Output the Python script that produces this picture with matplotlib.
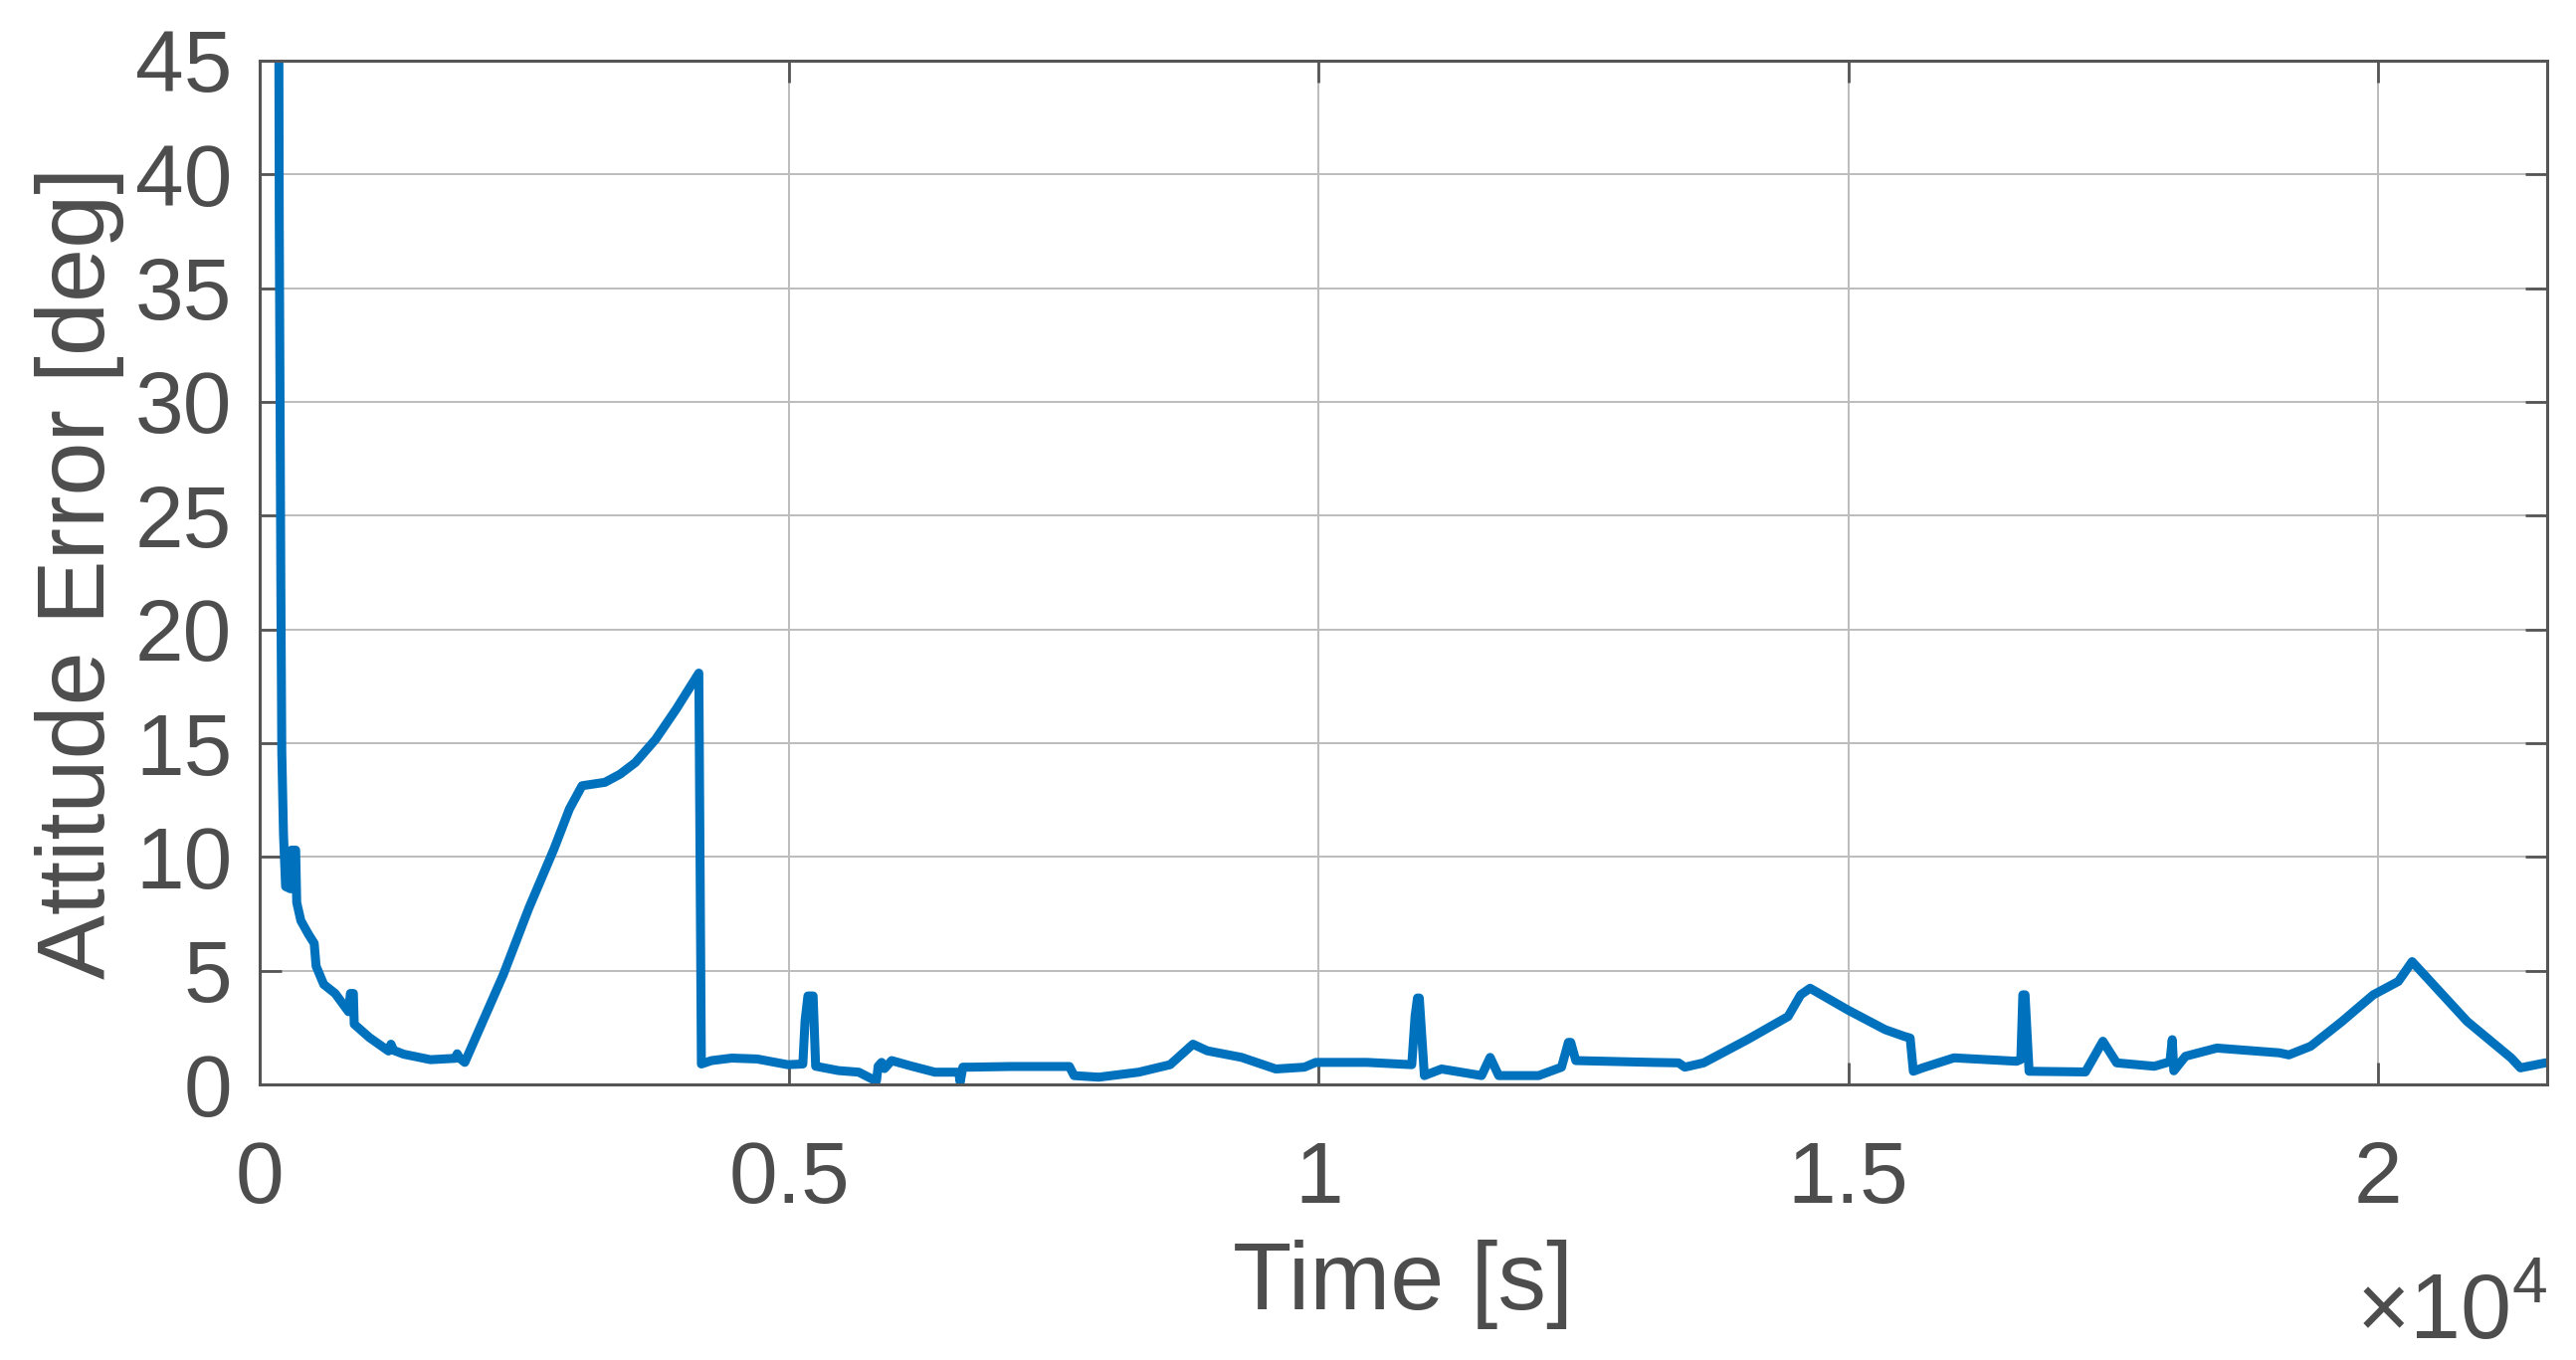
import matplotlib.pyplot as plt
from matplotlib.ticker import FixedLocator, FuncFormatter

plt.rcParams['font.family'] = ['Liberation Sans', 'DejaVu Sans']
plt.rcParams['mathtext.fontset'] = 'custom'
plt.rcParams['mathtext.rm'] = 'Liberation Sans'

# Tiempo [s] y error de actitud [deg]
t = [165, 185, 200, 209, 225, 245, 290, 300, 340, 350, 389, 461, 515, 533,
     605, 713, 839, 857, 885, 893, 1037, 1217, 1240, 1265, 1361, 1613, 1850,
     1865, 1890, 1937, 2301, 2541, 2780, 2924, 3044, 3260, 3404, 3548, 3739,
     3931, 4147, 4171, 4267, 4458, 4698, 4986, 5129, 5150, 5177, 5226, 5250,
     5297, 5465, 5657, 5800, 5825, 5840, 5873, 5900, 5968, 6136, 6376, 6600,
     6615, 6640, 6711, 7095, 7646, 7690, 7923, 8301, 8597, 8813, 8948, 9272,
     9595, 9865, 9973, 10459, 10879, 10910, 10933, 10950, 10998, 11160, 11538,
     11619, 11700, 12077, 12293, 12358, 12380, 12428, 13156, 13398, 13457,
     13635, 14048, 14433, 14551, 14640, 14994, 15349, 15526, 15585, 15615,
     15703, 15999, 16590, 16630, 16649, 16670, 16708, 17240, 17405, 17535,
     17890, 18038, 18060, 18075, 18185, 18481, 19072, 19161, 19367, 19663,
     19958, 20195, 20325, 20845, 21259, 21348, 21584, 21600]
err = [80, 38, 22, 14.6, 11, 8.7, 8.6, 10.3, 10.3, 8.0, 7.2, 6.6, 6.2, 5.2,
       4.4, 4.0, 3.2, 4.0, 4.0, 2.65, 2.06, 1.47, 1.77, 1.5, 1.33, 1.09, 1.15,
       1.35, 1.15, 0.97, 4.83, 7.74, 10.36, 12.1, 13.13, 13.28, 13.64, 14.15,
       15.17, 16.48, 18.08, 0.9, 1.05, 1.16, 1.12, 0.87, 0.9, 2.8, 3.89, 3.89,
       0.8, 0.76, 0.61, 0.54, 0.2, 0.17, 0.8, 0.97, 0.7, 1.05, 0.83, 0.54,
       0.54, 0.1, 0.76, 0.76, 0.79, 0.79, 0.39, 0.32, 0.54, 0.87, 1.77, 1.48,
       1.19, 0.68, 0.76, 0.97, 0.97, 0.87, 3.0, 3.8, 3.8, 0.39, 0.68, 0.39,
       1.19, 0.39, 0.39, 0.76, 1.85, 1.85, 1.05, 0.97, 0.95, 0.76, 0.95, 1.97,
       2.99, 3.94, 4.23, 3.28, 2.41, 2.12, 2.04, 0.58, 0.73, 1.17, 1.02, 1.1,
       3.94, 3.94, 0.58, 0.55, 1.9, 0.95, 0.8, 1.0, 1.97, 0.6, 1.24, 1.6, 1.39,
       1.3, 1.68, 2.77, 3.94, 4.53, 5.4, 2.77, 1.17, 0.73, 0.95, 0.95]

xticks = [0, 5000, 10000, 15000, 20000]
xlabels = ['0', '0.5', '1', '1.5', '2']
yticks = list(range(0, 50, 5))

cor_texto = '#4d4d4d'
cor_eixo = '#555555'

fig = plt.figure(figsize=(25.89, 13.67), dpi=100)
ax = fig.add_axes([0.1008, 0.2026, 0.888, 0.7528])

ax.plot(t, err, color='#0072BD', linewidth=6.5, solid_joinstyle='round')

ax.set_xlim(0, 21600)
ax.set_ylim(0, 45)
ax.xaxis.set_major_locator(FixedLocator(xticks))
ax.xaxis.set_major_formatter(FuncFormatter(lambda v, p: xlabels[xticks.index(int(v))]))
ax.set_yticks(yticks)

ax.grid(True, color='#bcbcbc', linewidth=1.4)
ax.set_axisbelow(True)
for s in ax.spines.values():
    s.set_color(cor_eixo)
    s.set_linewidth(2.2)

ax.tick_params(direction='in', length=16, width=2, colors=cor_eixo,
               labelsize=63, labelcolor=cor_texto, top=True, right=True)
ax.tick_params(axis='x', pad=40)
ax.tick_params(axis='y', pad=20)

ax.set_xlabel('Time [s]', fontsize=70, color=cor_texto, labelpad=14)
ax.set_ylabel('Attitude Error [deg]', fontsize=70, color=cor_texto, labelpad=8)

ax.text(1.0, -0.225, r'$\times10^{4}$', transform=ax.transAxes, ha='right',
        va='center', fontsize=66, color=cor_texto)

plt.savefig('out.png', dpi=100)
